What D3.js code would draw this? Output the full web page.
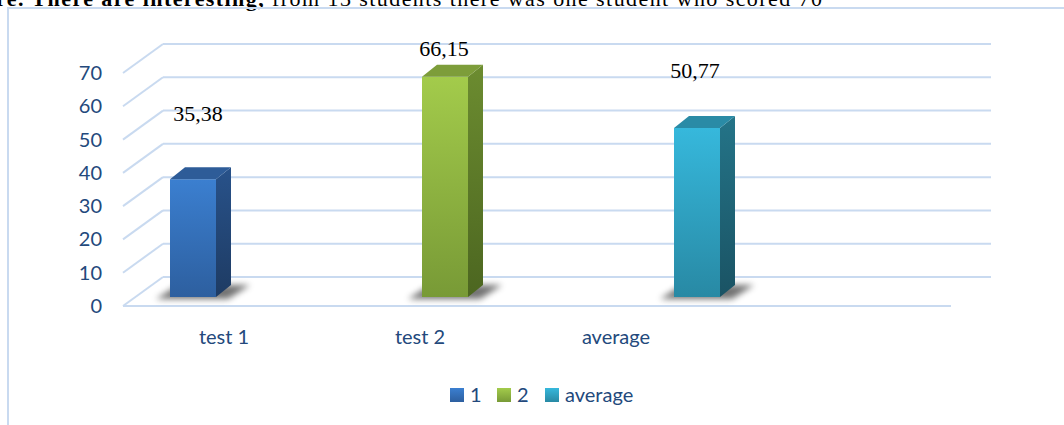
<!DOCTYPE html>
<html>
<head>
<meta charset="utf-8">
<script src="https://cdn.jsdelivr.net/npm/d3@7"></script>
<style>
  body { margin: 0; background: #fff; }
  svg { display: block; }
</style>
</head>
<body>
<script>
// values
const categories = ['test 1', 'test 2', 'average']
const scores = [35.38, 66.15, 50.77]
const valueLabels = ['35,38', '66,15', '50,77']
const legendNames = ['1', '2', 'average']
const yTicks = [0, 10, 20, 30, 40, 50, 60, 70]

const width = 1064
const height = 425

const svg = d3.select('body')
  .append('svg')
  .attr('width', width)
  .attr('height', height)

const defs = svg.append('defs')

// colours for each bar: front top, front bottom, side top, side bottom, lid
const palette = [
  ['#3b7fd0', '#2d5f9f', '#28528a', '#1e3b63', '#2e5c98'],
  ['#a3cb4b', '#789a36', '#6c8c30', '#4c6620', '#7d9d3a'],
  ['#36b8dc', '#2889a4', '#247488', '#1a5364', '#2a8ba6']
]

palette.forEach(function(p, i) {
  const f = defs.append('linearGradient').attr('id', 'front' + i)
    .attr('x1', 0).attr('y1', 0).attr('x2', 0).attr('y2', 1)
  f.append('stop').attr('offset', '0%').attr('stop-color', p[0])
  f.append('stop').attr('offset', '100%').attr('stop-color', p[1])
  const s = defs.append('linearGradient').attr('id', 'side' + i)
    .attr('x1', 0).attr('y1', 0).attr('x2', 0).attr('y2', 1)
  s.append('stop').attr('offset', '0%').attr('stop-color', p[2])
  s.append('stop').attr('offset', '100%').attr('stop-color', p[3])
})

defs.append('filter').attr('id', 'blur')
  .attr('x', '-50%').attr('y', '-50%').attr('width', '200%').attr('height', '200%')
  .append('feGaussianBlur').attr('stdDeviation', 3)

// text that is cut off above the frame
const headText = svg.append('text')
  .attr('x', -4)
  .attr('y', 6)
  .attr('font-family', 'Liberation Serif, Times New Roman, serif')
  .attr('font-size', 22)
  .attr('fill', '#000')
  .attr('textLength', 826)
  .attr('lengthAdjust', 'spacing')
headText.append('tspan').attr('font-weight', 'bold').text('re. There are interesting,')
headText.append('tspan').text(' from 13 students there was one student who scored 70')

// frame
const frameColor = '#c9daf0'
svg.append('path')
  .attr('d', 'M8,' + height + ' V8 H' + width)
  .attr('fill', 'none')
  .attr('stroke', frameColor)
  .attr('stroke-width', 2)

// back wall scale, floor depth shift
const y = d3.scaleLinear().domain([0, 70]).range([277, 44])
const wallLeft = 163
const wallRight = 991
const depthX = -40
const depthY = 29

const gridColor = '#c9daf0'
const grid = svg.append('g')

grid.selectAll('.back')
  .data(yTicks)
  .enter()
  .append('line')
    .attr('x1', wallLeft)
    .attr('x2', wallRight)
    .attr('y1', d => y(d))
    .attr('y2', d => y(d))
    .attr('stroke', gridColor)
    .attr('stroke-width', 2)

grid.selectAll('.side')
  .data(yTicks)
  .enter()
  .append('line')
    .attr('x1', wallLeft + depthX)
    .attr('y1', d => y(d) + depthY)
    .attr('x2', wallLeft)
    .attr('y2', d => y(d))
    .attr('stroke', gridColor)
    .attr('stroke-width', 2)

grid.append('line')
  .attr('x1', wallLeft + depthX)
  .attr('x2', wallRight + depthX)
  .attr('y1', y(0) + depthY)
  .attr('y2', y(0) + depthY)
  .attr('stroke', gridColor)
  .attr('stroke-width', 2)

// y tick labels on the front edge
const axisColor = '#23497c'
svg.selectAll('.ytick')
  .data(yTicks)
  .enter()
  .append('text')
    .attr('x', 102)
    .attr('y', d => y(d) + depthY + 7)
    .attr('text-anchor', 'end')
    .attr('font-family', 'Lato, Calibri, sans-serif')
    .attr('font-size', 20)
    .attr('fill', axisColor)
    .text(d => d)

// bars
const x = d3.scalePoint().domain(categories).range([193, 697])
const barW = 46
const barDx = 15
const barDy = -12
const floorY = y(0) + 20   // front face sits part way into the floor

const bars = svg.selectAll('.bar')
  .data(scores)
  .enter()
  .append('g')

bars.append('polygon')
  .attr('points', function(d, i) {
    const x0 = x(categories[i]) - barW / 2
    const x1 = x0 + barW
    return [[x0 - 14, floorY + 2], [x1 + 12, floorY + 2], [x1 + 34, floorY - 12], [x0 + 8, floorY - 12]].join(' ')
  })
  .attr('fill', '#000')
  .attr('opacity', 0.55)
  .attr('filter', 'url(#blur)')

bars.append('rect')
  .attr('x', (d, i) => x(categories[i]) - barW / 2)
  .attr('y', d => y(d) + 20)
  .attr('width', barW)
  .attr('height', d => floorY - (y(d) + 20))
  .attr('fill', (d, i) => 'url(#front' + i + ')')

bars.append('polygon')
  .attr('points', function(d, i) {
    const x1 = x(categories[i]) + barW / 2
    const t = y(d) + 20
    return [[x1, t], [x1 + barDx, t + barDy], [x1 + barDx, floorY + barDy], [x1, floorY]].join(' ')
  })
  .attr('fill', (d, i) => 'url(#side' + i + ')')

bars.append('polygon')
  .attr('points', function(d, i) {
    const x0 = x(categories[i]) - barW / 2
    const x1 = x0 + barW
    const t = y(d) + 20
    return [[x0, t], [x1, t], [x1 + barDx, t + barDy], [x0 + barDx, t + barDy]].join(' ')
  })
  .attr('fill', (d, i) => palette[i][4])

// value labels, placed where the original puts them
const labelShift = [[5, -58], [-1, -21], [-2, -50]]
svg.selectAll('.vlabel')
  .data(scores)
  .enter()
  .append('text')
    .attr('x', (d, i) => x(categories[i]) + labelShift[i][0])
    .attr('y', (d, i) => y(d) + 20 + labelShift[i][1])
    .attr('text-anchor', 'middle')
    .attr('font-family', 'Liberation Serif, Times New Roman, serif')
    .attr('font-size', 22)
    .attr('fill', '#000')
    .text((d, i) => valueLabels[i])

// category labels along the front
const xLabel = d3.scalePoint().domain(categories).range([224, 616])
svg.selectAll('.xlabel')
  .data(categories)
  .enter()
  .append('text')
    .attr('x', d => xLabel(d))
    .attr('y', 344)
    .attr('text-anchor', 'middle')
    .attr('font-family', 'Lato, Calibri, sans-serif')
    .attr('font-size', 20)
    .attr('fill', axisColor)
    .text(d => d)

// legend
const legendX = [450, 497, 545]
const legend = svg.selectAll('.legend')
  .data(legendNames)
  .enter()
  .append('g')
    .attr('transform', (d, i) => 'translate(' + legendX[i] + ',388)')

legend.append('rect')
  .attr('width', 14)
  .attr('height', 14)
  .attr('fill', (d, i) => 'url(#front' + i + ')')

legend.append('text')
  .attr('x', 20)
  .attr('y', 14)
  .attr('font-family', 'Lato, Calibri, sans-serif')
  .attr('font-size', 20)
  .attr('fill', axisColor)
  .text(d => d)
</script>
</body>
</html>
